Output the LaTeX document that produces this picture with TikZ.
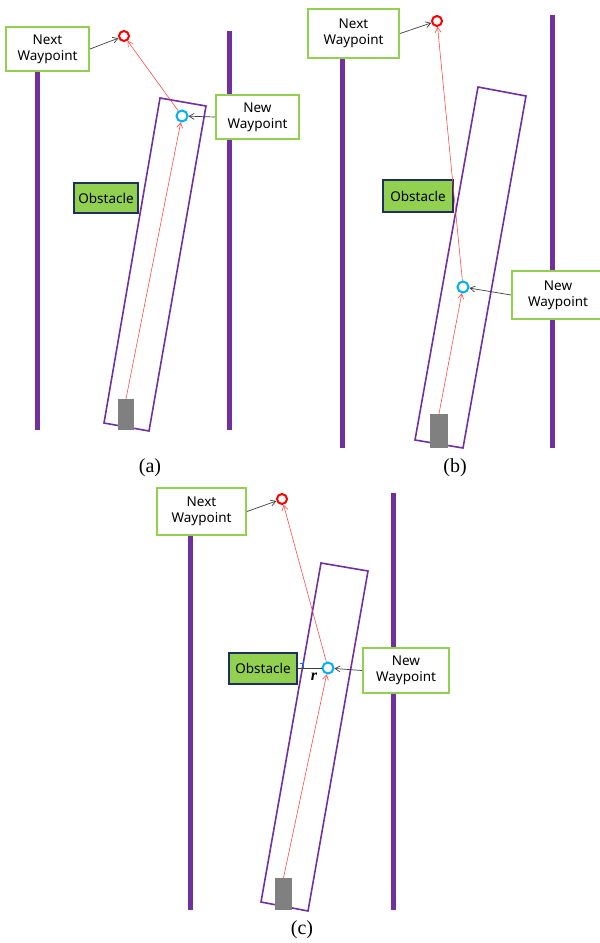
\documentclass[tikz,border=0pt]{standalone}
\usepackage{fontspec}
\setmainfont{Liberation Serif}
\newfontfamily\labelfont{Noto Sans}
\usetikzlibrary{arrows.meta}
\definecolor{wallpurple}{HTML}{7030A0}
\definecolor{boxgreen}{HTML}{92D050}
\definecolor{obsnavy}{HTML}{1F2F5F}
\definecolor{wpcyan}{HTML}{00B0F0}
\definecolor{wpred}{HTML}{FF0000}
\definecolor{pathred}{HTML}{FF4040}
\definecolor{vehgray}{HTML}{808080}
\definecolor{leadgray}{HTML}{404040}
\tikzset{
  wall/.style={line width=5pt, draw=wallpurple},
  lane/.style={line width=1.6pt, draw=wallpurple, line join=miter},
  callout/.style={draw=boxgreen, line width=2pt, fill=white, align=center,
    font=\labelfont\fontsize{13.5}{16}\selectfont, inner sep=0pt},
  obslabel/.style={draw=obsnavy, line width=2.2pt, fill=boxgreen,
    font=\labelfont\fontsize{13.5}{15}\selectfont, inner sep=0pt},
  target/.style={circle, draw=wpred, line width=2pt, minimum size=10pt, inner sep=0pt},
  newpt/.style={circle, draw=wpcyan, line width=2pt, minimum size=11pt, inner sep=0pt},
  vehicle/.style={rectangle, fill=vehgray, draw=none, inner sep=0pt},
  path/.style={draw=pathred, line width=0.55pt, -{Straight Barb[length=5pt,width=6pt]}},
  lead/.style={draw=leadgray, line width=0.7pt, -{Straight Barb[length=5pt,width=6pt]}},
  caption/.style={font=\fontsize{20}{22}\selectfont}
}
\begin{document}
\begin{tikzpicture}[x=1pt,y=-1pt]
\useasboundingbox (0,0) rectangle (600,943);

% ---------- panel (a) ----------
\draw[wall] (37,60) -- (37,430);
\draw[wall] (229,31) -- (229,430);
\draw[lane] (160,98) -- (206,106) -- (149,431) -- (104,423) -- cycle;
\node[vehicle, minimum width=16pt, minimum height=31pt] (vehA) at (126,414.5) {};
\node[target] (redA) at (124,36) {};
\node[newpt] (cyanA) at (182,116) {};
\node[callout, minimum width=83pt, minimum height=44pt] (nextA) at (47.5,49) {Next\\Waypoint};
\node[callout, minimum width=83pt, minimum height=44pt] (newA) at (257.5,117) {New\\Waypoint};
\node[obslabel, minimum width=64pt, minimum height=30pt] (obsA) at (106,198) {Obstacle};
\draw[path] (vehA.north) -- (cyanA);
\draw[path] (cyanA) -- (redA);
\draw[lead] (nextA.east) -- (redA);
\draw[lead] (newA.west) -- (cyanA);
\node[caption] (capA) at (150,468) {(a)};

% ---------- panel (b) ----------
\draw[wall] (342,50) -- (342,448);
\draw[wall] (552,15) -- (552,448);
\draw[lane] (478,87) -- (526,96) -- (463,448) -- (415,440) -- cycle;
\node[vehicle, minimum width=18pt, minimum height=34pt] (vehB) at (439,431) {};
\node[target] (redB) at (437,21) {};
\node[newpt] (cyanB) at (463,287) {};
\node[callout, minimum width=91pt, minimum height=49pt] (nextB) at (353.5,33.5) {Next\\Waypoint};
\node[callout, minimum width=92pt, minimum height=48pt] (newB) at (558,295) {New\\Waypoint};
\node[obslabel, minimum width=70pt, minimum height=32pt] (obsB) at (418,196) {Obstacle};
\draw[path] (vehB.north) -- (cyanB);
\draw[path] (cyanB) -- (redB);
\draw[lead] (nextB.east) -- (redB);
\draw[lead] (newB.west) -- (cyanB);
\node[caption] (capB) at (455,468) {(b)};

% ---------- panel (c) ----------
\draw[wall] (190,530) -- (190,910);
\draw[wall] (393,493) -- (393,910);
\draw[lane] (321,563) -- (368,571) -- (308,911) -- (261,902) -- cycle;
\node[vehicle, minimum width=17pt, minimum height=32pt] (vehC) at (283.5,894) {};
\node[target] (redC) at (282,499) {};
\node[newpt] (cyanC) at (328,668) {};
\node[callout, minimum width=89pt, minimum height=47pt] (nextC) at (201.5,511.5) {Next\\Waypoint};
\node[callout, minimum width=86pt, minimum height=45pt] (newC) at (406,670.5) {New\\Waypoint};
\node[obslabel, minimum width=68pt, minimum height=31pt] (obsC) at (263,668.5) {Obstacle};
\draw[path] (vehC.north) -- (cyanC);
\draw[path] (cyanC) -- (redC);
\draw[lead] (nextC.east) -- (redC);
\draw[lead] (newC.west) -- (cyanC);
% clearance r from the obstacle to the new waypoint
\draw[draw=leadgray, line width=0.7pt] (obsC.east |- cyanC) -- (cyanC.west);
\draw[draw=wpcyan!70!blue, line width=0.6pt] ([xshift=1.5pt]obsC.east |- cyanC) ++(0,-4.5) -| ++(4,4.5);
\node[font=\bfseries\itshape\fontsize{16}{17}\selectfont] (rlabel) at (314,677) {r};
\node[caption] (capC) at (302,930) {(c)};
\end{tikzpicture}
\end{document}
